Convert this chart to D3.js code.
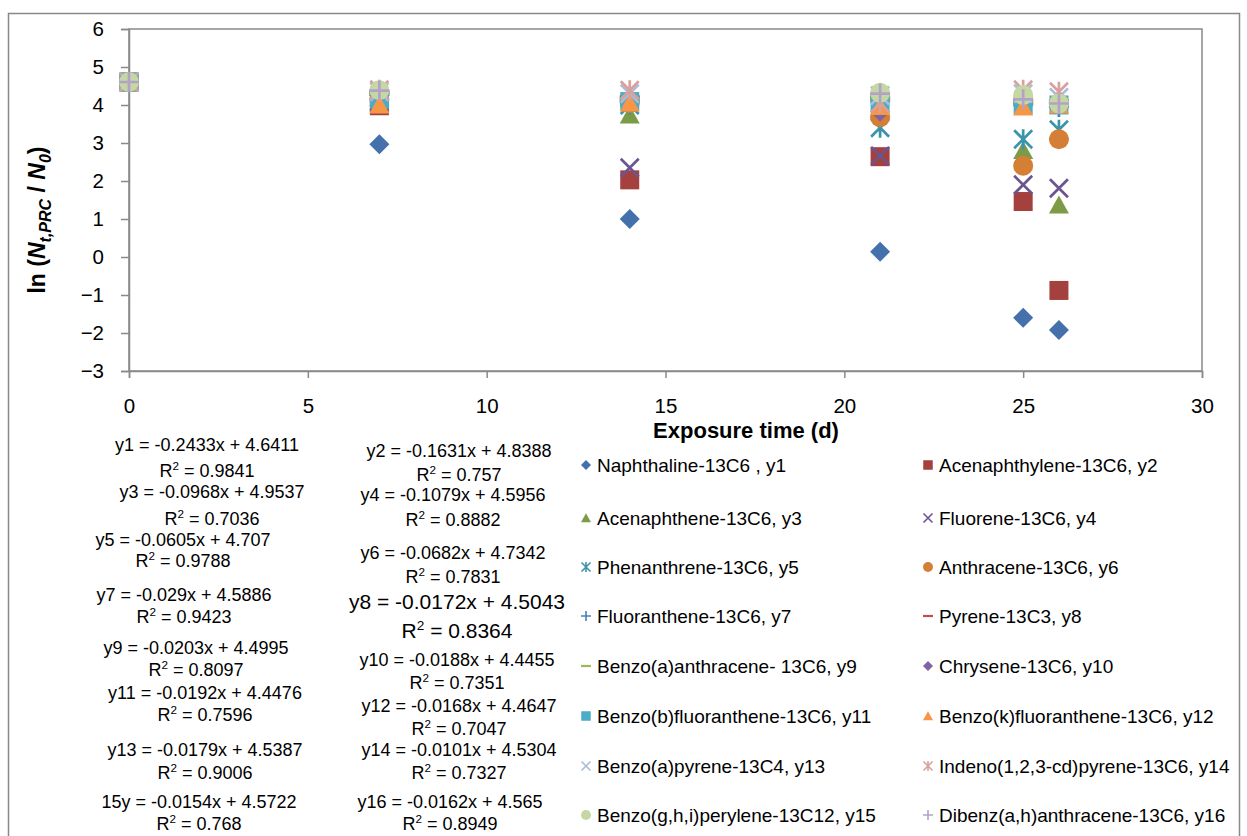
<!DOCTYPE html>
<html>
<head>
<meta charset="utf-8">
<script src="https://cdn.jsdelivr.net/npm/d3@7"></script>
<style>
  body { margin: 0; background: #fff; }
  svg { display: block; }
  text { font-family: "Liberation Sans", Arial, sans-serif; fill: #000; }
</style>
</head>
<body>
<svg id="chart" width="1247" height="836"></svg>
<script>
// Exposure days at which the passive sampler was retrieved
const days = [0, 7, 14, 21, 25, 26];

// ln(Nt,PRC / N0) for each performance reference compound
const y1  = [4.605, 2.97, 1.00, 0.14, -1.60, -1.92];
const y2  = [4.605, 3.98, 2.03, 2.64, 1.46, -0.88];
const y3  = [4.605, 4.05, 3.74, 3.95, 2.80, 1.37];
const y4  = [4.605, 4.10, 2.35, 2.66, 1.90, 1.81];
const y5  = [4.605, 4.20, 4.00, 3.40, 3.10, 3.35];
const y6  = [4.605, 4.15, 4.05, 3.68, 2.40, 3.10];
const y7  = [4.605, 4.35, 4.10, 4.10, 4.00, 3.95];
const y8  = [4.605, 4.30, 4.20, 4.20, 4.10, 4.10];
const y9  = [4.605, 4.30, 4.15, 4.15, 4.05, 4.05];
const y10 = [4.605, 4.25, 4.10, 3.82, 4.05, 4.00];
const y11 = [4.605, 4.15, 4.09, 4.05, 4.00, 4.00];
const y12 = [4.605, 4.00, 4.05, 3.96, 3.95, 4.00];
const y13 = [4.605, 4.35, 4.30, 4.25, 4.30, 4.20];
const y14 = [4.605, 4.40, 4.39, 4.05, 4.40, 4.35];
const y15 = [4.605, 4.39, null, 4.32, 4.26, 4.04];
const y16 = [4.605, 4.38, null, 4.30, 4.15, 4.04];

const seriesNames = [
  "Naphthaline-13C6 , y1", "Acenaphthylene-13C6, y2",
  "Acenaphthene-13C6, y3", "Fluorene-13C6, y4",
  "Phenanthrene-13C6, y5", "Anthracene-13C6, y6",
  "Fluoranthene-13C6, y7", "Pyrene-13C3, y8",
  "Benzo(a)anthracene- 13C6, y9", "Chrysene-13C6, y10",
  "Benzo(b)fluoranthene-13C6, y11", "Benzo(k)fluoranthene-13C6, y12",
  "Benzo(a)pyrene-13C4, y13", "Indeno(1,2,3-cd)pyrene-13C6, y14",
  "Benzo(g,h,i)perylene-13C12, y15", "Dibenz(a,h)anthracene-13C6, y16"
];

// Linear trend equations and coefficients of determination
const equations = [
  "y1 = -0.2433x + 4.6411", "y2 = -0.1631x + 4.8388",
  "y3 = -0.0968x + 4.9537", "y4 = -0.1079x + 4.5956",
  "y5 = -0.0605x + 4.707",  "y6 = -0.0682x + 4.7342",
  "y7 = -0.029x + 4.5886",  "y8 = -0.0172x + 4.5043",
  "y9 = -0.0203x + 4.4995", "y10 = -0.0188x + 4.4455",
  "y11 = -0.0192x + 4.4476", "y12 = -0.0168x + 4.4647",
  "y13 = -0.0179x + 4.5387", "y14 = -0.0101x + 4.5304",
  "15y = -0.0154x + 4.5722", "y16 = -0.0162x + 4.565"
];
const rSquared = [
  "0.9841", "0.757", "0.7036", "0.8882", "0.9788", "0.7831", "0.9423", "0.8364",
  "0.8097", "0.7351", "0.7596", "0.7047", "0.9006", "0.7327", "0.768", "0.8949"
];

const xTicks = [0, 5, 10, 15, 20, 25, 30];
const yTicks = [-3, -2, -1, 0, 1, 2, 3, 4, 5, 6];

// ---- appearance -------------------------------------------------------
const seriesValues = [y1, y2, y3, y4, y5, y6, y7, y8, y9, y10, y11, y12, y13, y14, y15, y16];
const markerShapes = ["diamond", "square", "triangle", "x", "star", "circle", "plus", "dash",
                      "dash", "diamond", "square", "triangle", "x", "star", "circle", "plus"];
const markerColors = ["#4470AB", "#A4403D", "#7D9B46", "#6A5590", "#3A95AC", "#D57E36",
                      "#4A7EBB", "#C0504D", "#9BBB59", "#8064A2", "#4BACC6", "#F79646",
                      "#A9BCDB", "#D9A09E", "#C5D8A3", "#B3A2C7"];

const svg = d3.select("#chart");
const plot = { left: 129, right: 1202, top: 29, bottom: 371 };
const axisGrey = "#898989";

const x = d3.scaleLinear().domain([0, 30]).range([plot.left, plot.right]);
const y = d3.scaleLinear().domain([-3, 6]).range([plot.bottom, plot.top]);

// outer chart frame
svg.append("rect")
  .attr("x", 8.5).attr("y", 13.5).attr("width", 1231).attr("height", 840)
  .attr("fill", "none").attr("stroke", axisGrey).attr("stroke-width", 1.5);

// plot area frame
svg.append("rect")
  .attr("x", plot.left).attr("y", plot.top)
  .attr("width", plot.right - plot.left).attr("height", plot.bottom - plot.top)
  .attr("fill", "none").attr("stroke", axisGrey).attr("stroke-width", 1.5);

const xAxis = svg.append("g")
  .attr("transform", `translate(0,${plot.bottom})`)
  .call(d3.axisBottom(x).tickValues(xTicks).tickSize(7).tickPadding(20).tickFormat(d3.format("d")));
const yAxis = svg.append("g")
  .attr("transform", `translate(${plot.left},0)`)
  .call(d3.axisLeft(y).tickValues(yTicks).tickSize(8).tickPadding(17).tickFormat(d3.format("d")));

[xAxis, yAxis].forEach(g => {
  g.select(".domain").attr("stroke", axisGrey).attr("stroke-width", 1.5);
  g.selectAll(".tick line").attr("stroke", axisGrey).attr("stroke-width", 1.5);
  g.selectAll(".tick text").attr("font-size", 20.5).attr("fill", "#000")
    .attr("font-family", "'Liberation Sans', Arial, sans-serif");
});

// axis titles
svg.append("text")
  .attr("x", 746).attr("y", 438)
  .attr("text-anchor", "middle").attr("font-size", 22).attr("font-weight", "bold")
  .text("Exposure time (d)");

const yTitle = svg.append("text")
  .attr("transform", "translate(45,220) rotate(-90)")
  .attr("text-anchor", "middle").attr("font-size", 23).attr("font-weight", "bold");
yTitle.append("tspan").text("ln (");
yTitle.append("tspan").attr("font-style", "italic").text("N");
yTitle.append("tspan").attr("font-style", "italic").attr("font-size", 16).attr("dy", 6).text("t,PRC");
yTitle.append("tspan").attr("dy", -6).text(" / ");
yTitle.append("tspan").attr("font-style", "italic").text("N");
yTitle.append("tspan").attr("font-style", "italic").attr("font-size", 16).attr("dy", 6).text("0");
yTitle.append("tspan").attr("dy", -6).text(")");

// draws one marker centred on the group origin; r is the half size
function drawMarker(g, shape, color, r) {
  const sw = Math.max(1.6, r * 0.27);
  switch (shape) {
    case "diamond":
      g.append("path").attr("d", `M0,${-r}L${r},0L0,${r}L${-r},0Z`).attr("fill", color);
      break;
    case "square":
      g.append("rect").attr("x", -r * 0.95).attr("y", -r * 0.95)
        .attr("width", r * 1.9).attr("height", r * 1.9).attr("fill", color);
      break;
    case "triangle":
      g.append("path").attr("d", `M0,${-r * 0.95}L${r},${r * 0.85}L${-r},${r * 0.85}Z`).attr("fill", color);
      break;
    case "circle":
      g.append("circle").attr("r", r).attr("fill", color);
      break;
    case "x":
      g.append("path").attr("d", `M${-r * 0.9},${-r * 0.9}L${r * 0.9},${r * 0.9}M${r * 0.9},${-r * 0.9}L${-r * 0.9},${r * 0.9}`)
        .attr("stroke", color).attr("stroke-width", sw).attr("fill", "none");
      break;
    case "star":
      g.append("path").attr("d", `M${-r * 0.9},${-r * 0.9}L${r * 0.9},${r * 0.9}M${r * 0.9},${-r * 0.9}L${-r * 0.9},${r * 0.9}M0,${-r}L0,${r}`)
        .attr("stroke", color).attr("stroke-width", sw).attr("fill", "none");
      break;
    case "plus":
      g.append("path").attr("d", `M${-r},0L${r},0M0,${-r}L0,${r}`)
        .attr("stroke", color).attr("stroke-width", sw).attr("fill", "none");
      break;
    case "dash":
      g.append("rect").attr("x", -r).attr("y", -r * 0.22)
        .attr("width", 2 * r).attr("height", r * 0.44).attr("fill", color);
      break;
  }
}

// data markers, later series drawn on top
const marks = svg.append("g");
seriesValues.forEach((vals, si) => {
  const pts = days.map((d, i) => ({ d, v: vals[i] })).filter(p => p.v !== null);
  marks.append("g").selectAll("g").data(pts).join("g")
    .attr("transform", p => `translate(${x(p.d)},${y(p.v)})`)
    .each(function () { drawMarker(d3.select(this), markerShapes[si], markerColors[si], 10); });
});

// trend-line equations in two columns
const eqLayout = [
  [207, 451, 477], [459, 457, 481],
  [212, 498, 525], [453, 501, 526],
  [183, 546, 567], [453, 559, 583],
  [184, 601, 623], [457, 609, 638],
  [196, 654, 676], [457, 666, 689],
  [205, 699, 721], [459, 712, 735],
  [205, 756, 779], [459, 756, 779],
  [199, 808, 830], [450, 808, 830]
];
const eqGroup = svg.append("g");
equations.forEach((eq, i) => {
  const [cx, yEq, yR] = eqLayout[i];
  const fs = i === 7 ? 21 : 18;
  eqGroup.append("text").attr("x", cx).attr("y", yEq).attr("text-anchor", "middle")
    .attr("font-size", fs).text(eq);
  const r = eqGroup.append("text").attr("x", cx).attr("y", yR).attr("text-anchor", "middle")
    .attr("font-size", fs);
  r.append("tspan").text("R");
  r.append("tspan").attr("font-size", fs * 0.65).attr("dy", -fs * 0.4).text("2");
  r.append("tspan").attr("dy", fs * 0.4).text(" = " + rSquared[i]);
});

// legend, two columns
const legend = svg.append("g");
const legendRowY = [465, 518, 567, 616, 666, 716, 766, 815];
seriesNames.forEach((name, i) => {
  const col = i % 2, row = Math.floor(i / 2);
  const mx = col === 0 ? 586 : 928;
  const item = legend.append("g").attr("transform", `translate(${mx},${legendRowY[row]})`);
  drawMarker(item.append("g"), markerShapes[i], markerColors[i], 5);
  item.append("text").attr("x", 11).attr("y", 6.5).attr("font-size", 19).text(name);
});
</script>
</body>
</html>
